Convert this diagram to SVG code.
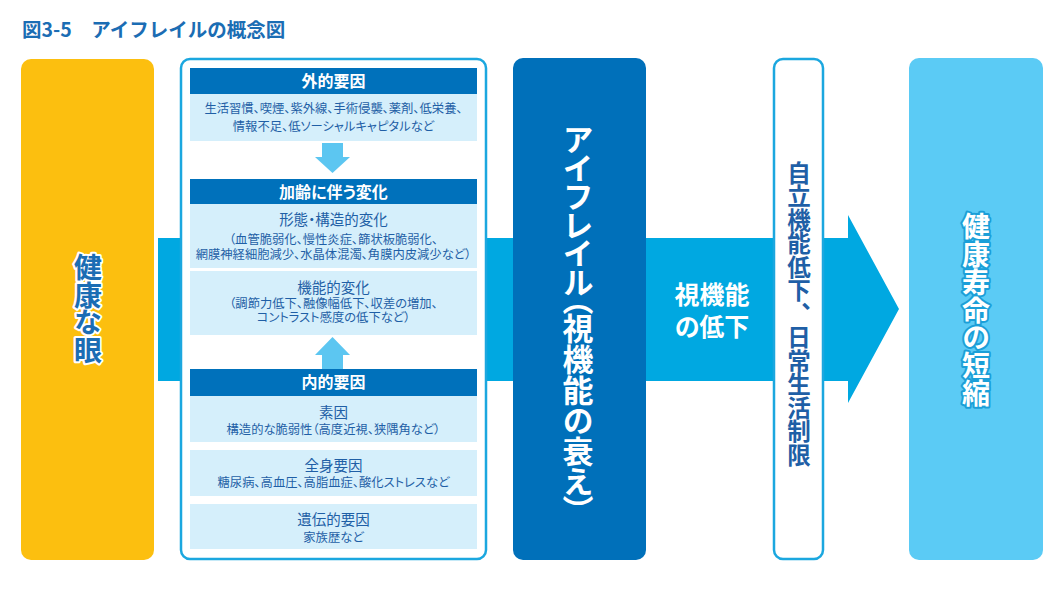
<svg xmlns="http://www.w3.org/2000/svg" width="1058" height="591" viewBox="0 0 1058 591">
<style>
text{font-family:"Noto Sans CJK JP","Noto Sans CJK SC",sans-serif;font-feature-settings:"palt";}
.title{font-size:19.5px;font-weight:bold;fill:#1b6db4;font-feature-settings:normal;}
.hdr{fill:#0071bb;}
.hdrt{font-size:16px;font-weight:bold;fill:#ffffff;text-anchor:middle;}
.lb{fill:#d5effb;}
.sub{font-size:14.5px;fill:#1f5fa6;text-anchor:middle;}
.sm{font-size:12.3px;fill:#1f5fa6;text-anchor:middle;}
.arr{fill:#5cc6f1;}
.v{writing-mode:vertical-rl;text-anchor:middle;font-feature-settings:"vpal";}
</style>
<rect width="1058" height="591" fill="#ffffff"/>
<text class="title" x="22" y="37">図3-5　アイフレイルの概念図</text>

<g id="connectors">
<polygon points="158,238 848,238 848,215 899,309 848,403 848,381 158,381" fill="#00a8e1"/>
</g>

<g id="healthy-eye">
<rect x="21" y="59" width="133" height="501" rx="10" fill="#fcbf0f"/>
<text class="v" x="88" y="309" font-size="28" font-weight="bold" fill="#1b6db4" stroke="#ffffff" stroke-width="4" stroke-linejoin="round" paint-order="stroke">健康な眼</text>
</g>

<g id="factors">
<rect x="181" y="59" width="305" height="500" rx="9" fill="#ffffff" stroke="#1ba7df" stroke-width="2.5"/>
<g id="external">
<rect class="hdr" x="190" y="68" width="287" height="26"/>
<text class="hdrt" x="333.5" y="87">外的要因</text>
<rect class="lb" x="190" y="94" width="287" height="47"/>
<text class="sm" x="333.5" y="112.5">生活習慣、喫煙、紫外線、手術侵襲、薬剤、低栄養、</text>
<text class="sm" x="333.5" y="131">情報不足、低ソーシャルキャピタルなど</text>
</g>
<polygon class="arr" points="322,143 343,143 343,157 350,157 332.5,173 315,157 322,157"/>
<g id="aging">
<rect class="hdr" x="190" y="179" width="287" height="25"/>
<text class="hdrt" x="333.5" y="197.5">加齢に伴う変化</text>
<rect class="lb" x="190" y="204" width="287" height="64"/>
<text class="sub" x="333.5" y="225">形態・構造的変化</text>
<text class="sm" x="333.5" y="243.5">（血管脆弱化、慢性炎症、篩状板脆弱化、</text>
<text class="sm" x="333.5" y="258.5">網膜神経細胞減少、水晶体混濁、角膜内皮減少など）</text>
<rect class="lb" x="190" y="271" width="287" height="64"/>
<text class="sub" x="333.5" y="293">機能的変化</text>
<text class="sm" x="333.5" y="307.5">（調節力低下、融像幅低下、収差の増加、</text>
<text class="sm" x="333.5" y="322">コントラスト感度の低下など）</text>
</g>
<polygon class="arr" points="332.5,337 350,355 343,355 343,370 322,370 322,355 315,355"/>
<g id="internal">
<rect class="hdr" x="190" y="369" width="287" height="27"/>
<text class="hdrt" x="333.5" y="388">内的要因</text>
<rect class="lb" x="190" y="396" width="287" height="46"/>
<text class="sub" x="333.5" y="417.5">素因</text>
<text class="sm" x="333.5" y="434">構造的な脆弱性（高度近視、狭隅角など）</text>
<rect class="lb" x="190" y="450" width="287" height="46"/>
<text class="sub" x="333.5" y="470.5">全身要因</text>
<text class="sm" x="333.5" y="487">糖尿病、高血圧、高脂血症、酸化ストレスなど</text>
<rect class="lb" x="190" y="504" width="287" height="45"/>
<text class="sub" x="333.5" y="524.5">遺伝的要因</text>
<text class="sm" x="333.5" y="542">家族歴など</text>
</g>
</g>

<g id="eye-frail">
<rect x="513" y="58" width="133" height="502" rx="10" fill="#0070ba"/>
<text class="v" x="578" y="318" font-size="31" font-weight="bold" fill="#ffffff">アイフレイル（視機能の衰え）</text>
</g>

<g id="arrow-label">
<text x="712" y="304" font-size="25" font-weight="bold" fill="#ffffff" text-anchor="middle">視機能</text>
<text x="712" y="336" font-size="25" font-weight="bold" fill="#ffffff" text-anchor="middle">の低下</text>
</g>

<g id="independence">
<rect x="774" y="59" width="49" height="500" rx="9" fill="#ffffff" stroke="#1ba7df" stroke-width="2.5"/>
<text class="v" x="799" y="314" font-size="23.5" font-weight="bold" fill="#1f5fa6" style="font-feature-settings:normal">自立機能低下、日常生活制限</text>
</g>

<g id="healthy-life">
<rect x="909" y="58" width="134" height="502" rx="10" fill="#5bcbf5"/>
<text class="v" x="976" y="310" font-size="28" font-weight="bold" fill="#ffffff" stroke="#1b9fd8" stroke-width="4" stroke-linejoin="round" paint-order="stroke">健康寿命の短縮</text>
</g>
</svg>
